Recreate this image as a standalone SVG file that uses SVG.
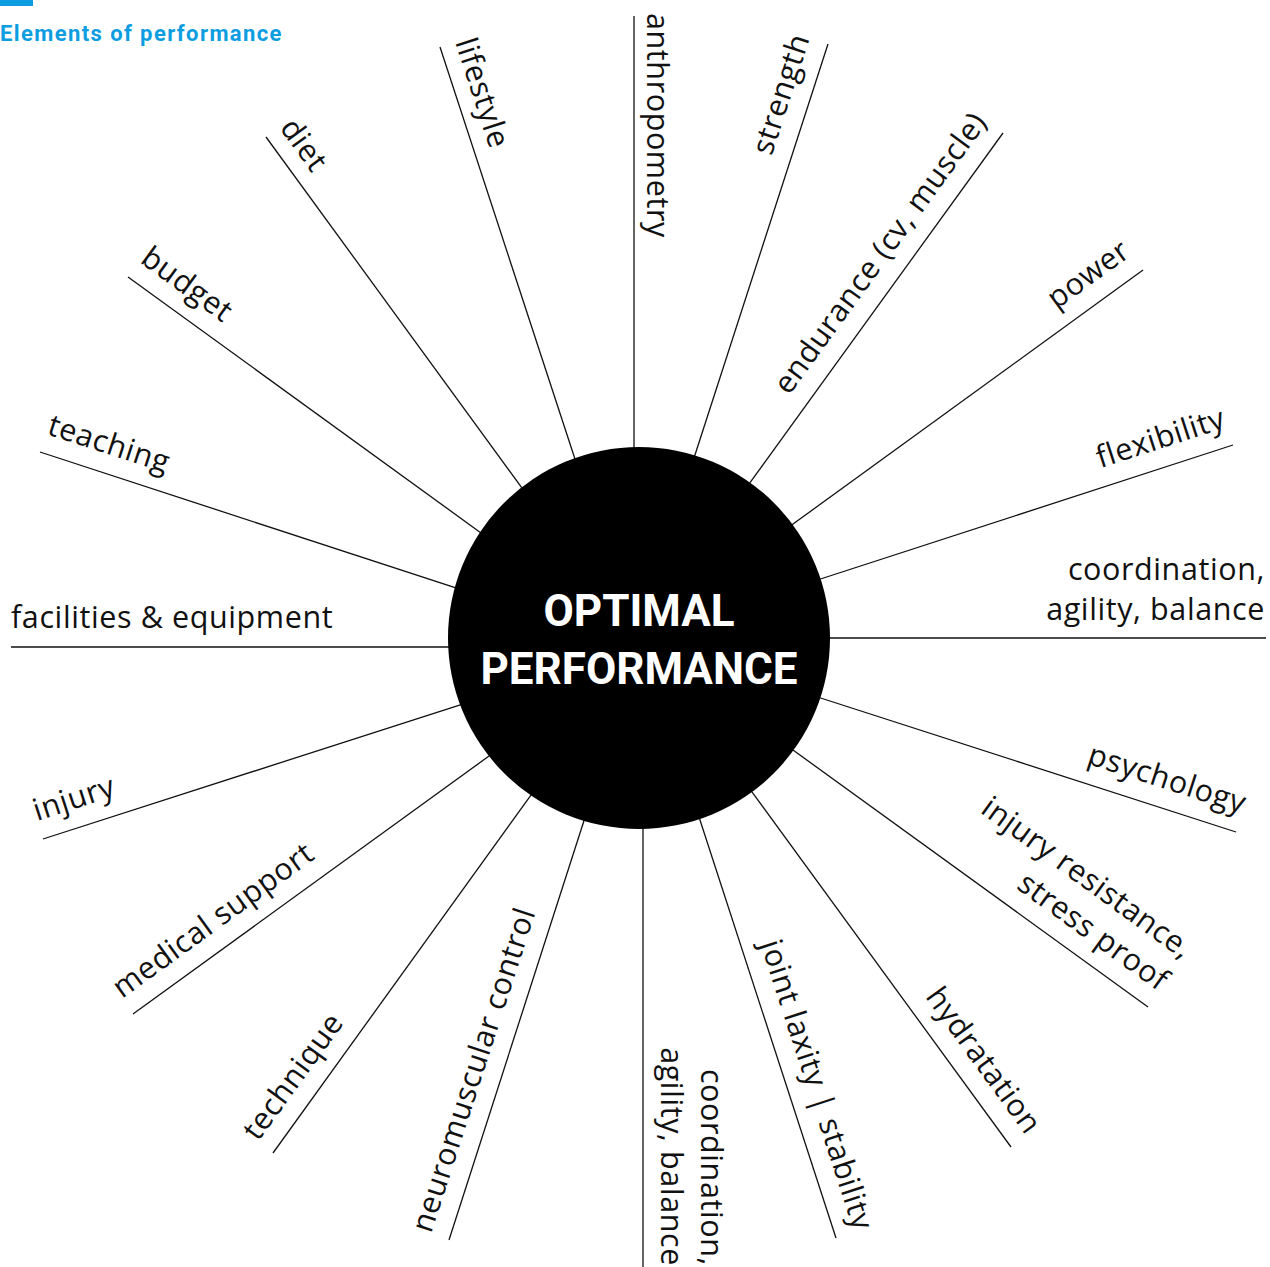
<svg xmlns="http://www.w3.org/2000/svg" width="1270" height="1267" viewBox="0 0 1270 1267">
<style>
.spoke{stroke:#111;stroke-width:1.3;fill:none}
.lbl{font-family:"Open Sans","Liberation Sans",sans-serif;font-weight:400;font-size:30.5px;letter-spacing:0.6px;fill:#111}
.end{text-anchor:end}
.title{font-family:Roboto,"Liberation Sans",sans-serif;font-weight:700;font-size:44px;fill:#fff;text-anchor:middle}
.head{font-family:Roboto,"Liberation Sans",sans-serif;font-weight:700;font-size:22px;letter-spacing:1.4px;fill:#0d9de0}
</style>
<rect width="1270" height="1267" fill="#fff"/>
<g id="header">
<rect x="0" y="0" width="33" height="6" fill="#0d9de0"/>
<text class="head" x="0" y="41">Elements of performance</text>
</g>
<g id="connectors">
<line class="spoke" x1="634" y1="16" x2="634" y2="467"/>
<line class="spoke" x1="828" y1="44" x2="688.8" y2="474"/>
<line class="spoke" x1="1003" y1="133" x2="737.3" y2="500.2"/>
<line class="spoke" x1="1143" y1="270" x2="776.8" y2="535.8"/>
<line class="spoke" x1="1233" y1="445" x2="802" y2="585"/>
<line class="spoke" x1="1266" y1="638" x2="810" y2="638"/>
<line class="spoke" x1="1236" y1="832" x2="802" y2="692"/>
<line class="spoke" x1="1148" y1="1007" x2="776.8" y2="738.3"/>
<line class="spoke" x1="1011" y1="1147" x2="740.2" y2="775.8"/>
<line class="spoke" x1="836" y1="1238" x2="693.8" y2="801"/>
<line class="spoke" x1="643" y1="1267" x2="643" y2="809"/>
<line class="spoke" x1="449" y1="1240" x2="590" y2="802"/>
<line class="spoke" x1="273" y1="1153" x2="542.7" y2="778.8"/>
<line class="spoke" x1="133" y1="1014" x2="505.2" y2="744.3"/>
<line class="spoke" x1="43" y1="839" x2="479" y2="698.9"/>
<line class="spoke" x1="11" y1="647" x2="468" y2="647"/>
<line class="spoke" x1="40" y1="452" x2="475" y2="594.2"/>
<line class="spoke" x1="128" y1="277" x2="497.2" y2="544.7"/>
<line class="spoke" x1="266" y1="137" x2="533.8" y2="504.2"/>
<line class="spoke" x1="440" y1="47" x2="581.2" y2="478"/>
</g>
<g id="center">
<circle cx="639" cy="638" r="191" fill="#000"/>
<text class="title" x="639" y="626">OPTIMAL</text>
<text class="title" x="639" y="684">PERFORMANCE</text>
</g>
<g id="anthropometry"><text class="lbl" transform="translate(647,13) rotate(90)">anthropometry</text></g>
<g id="strength"><text class="lbl end" transform="translate(810,38) rotate(-72)">strength</text></g>
<g id="endurance"><text class="lbl end" transform="translate(988,122) rotate(-54)">endurance (cv, muscle)</text></g>
<g id="power"><text class="lbl end" transform="translate(1132,255) rotate(-36)">power</text></g>
<g id="flexibility"><text class="lbl end" transform="translate(1227,427) rotate(-18)">flexibility</text></g>
<g id="coordination-right"><text class="lbl end" x="1265" y="580">coordination,</text><text class="lbl end" x="1265" y="620">agility, balance</text></g>
<g id="psychology"><text class="lbl end" transform="translate(1242,814) rotate(18)">psychology</text></g>
<g id="injury-resistance"><text class="lbl end" transform="translate(1183,960) rotate(36)">injury resistance,</text><text class="lbl end" transform="translate(1159,992) rotate(36)">stress proof</text></g>
<g id="hydratation"><text class="lbl end" transform="translate(1026,1136) rotate(54)">hydratation</text></g>
<g id="joint-laxity"><text class="lbl end" transform="translate(854,1232) rotate(72)">joint laxity | stability</text></g>
<g id="coordination-bottom"><text class="lbl end" transform="translate(701,1266) rotate(90)">coordination,</text><text class="lbl end" transform="translate(661,1266) rotate(90)">agility, balance</text></g>
<g id="neuromuscular"><text class="lbl" transform="translate(431,1234) rotate(-72)">neuromuscular control</text></g>
<g id="technique"><text class="lbl" transform="translate(258,1142) rotate(-54)">technique</text></g>
<g id="medical-support"><text class="lbl" transform="translate(122,999) rotate(-36)">medical support</text></g>
<g id="injury"><text class="lbl" transform="translate(37,821) rotate(-18)">injury</text></g>
<g id="facilities"><text class="lbl" x="11" y="628">facilities &amp; equipment</text></g>
<g id="teaching"><text class="lbl" transform="translate(46,434) rotate(18)">teaching</text></g>
<g id="budget"><text class="lbl" transform="translate(139,262) rotate(36)">budget</text></g>
<g id="diet"><text class="lbl" transform="translate(279,128) rotate(54)">diet</text></g>
<g id="lifestyle"><text class="lbl" transform="translate(455,42) rotate(72)">lifestyle</text></g>
</svg>
